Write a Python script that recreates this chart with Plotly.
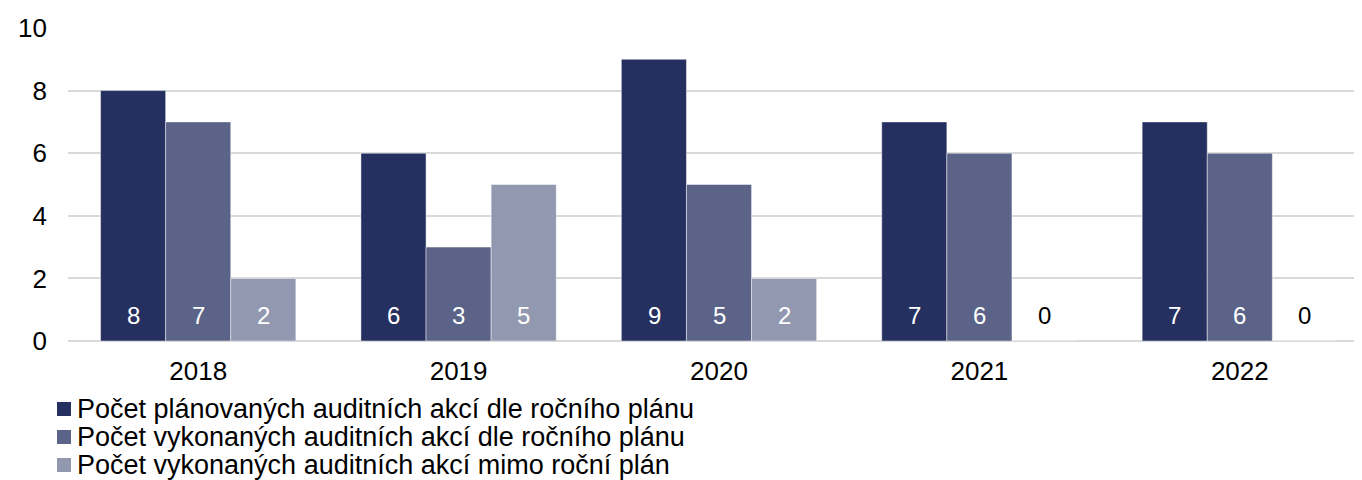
import plotly.graph_objects as go

years = ['2018', '2019', '2020', '2021', '2022']
planned = [8, 6, 9, 7, 7]
done_in_plan = [7, 3, 5, 6, 6]
done_out_plan = [2, 5, 2, 0, 0]

series = [
    ('Počet plánovaných auditních akcí dle ročního plánu', planned, '#253060'),
    ('Počet vykonaných auditních akcí dle ročního plánu', done_in_plan, '#5b6488'),
    ('Počet vykonaných auditních akcí mimo roční plán', done_out_plan, '#9398b1'),
]

# the page body adds an 8px margin, so figure coords = screen coords - 8
OFF = 8
W, H = 1362, 480
ML, MR, MT = 68 - OFF, 0, 28 - OFF
plot_h = 313
MB = H - MT - plot_h
plot_w = W - ML - MR

def px_x(px):
    return (px - OFF - ML) / plot_w

def px_y(py):
    return (MT + plot_h - (py - OFF)) / plot_h

fig = go.Figure()
annotations = []
shapes = []
bar_px = 65  # width of one bar in pixels, used to shift labels onto bars
for i, (name, vals, color) in enumerate(series):
    fig.add_trace(go.Bar(
        x=years, y=vals, name=name, showlegend=False,
        marker=dict(color=color, line=dict(color='rgba(255,255,255,0.45)', width=1)),
        hoverinfo='skip',
    ))
    # value labels near the bar base (category index as x)
    for j, v in enumerate(vals):
        annotations.append(dict(
            x=j, y=0, xref='x', yref='y', text=str(v), showarrow=False,
            xshift=(i - 1) * bar_px, yshift=26, yanchor='middle',
            font=dict(size=24, color='white' if v > 0 else 'black'),
        ))
    # hand-drawn legend: tight row spacing like the original
    row_y = 409 + i * 28
    shapes.append(dict(type='rect', xref='paper', yref='paper',
                       x0=px_x(57), x1=px_x(71), y0=px_y(row_y + 7), y1=px_y(row_y - 7),
                       fillcolor=color, line=dict(width=0)))
    annotations.append(dict(
        x=px_x(75), y=px_y(row_y), xref='paper', yref='paper', text=name,
        showarrow=False, xanchor='left', yanchor='middle',
        font=dict(size=27, color='black'),
    ))

fig.update_layout(
    width=W, height=H,
    barmode='group', bargap=0.25, bargroupgap=0,
    paper_bgcolor='white', plot_bgcolor='white',
    font=dict(family='Liberation Sans, Arial, sans-serif', size=26, color='black'),
    margin=dict(l=ML, r=MR, t=MT, b=MB, autoexpand=False),
    showlegend=False,
    xaxis=dict(type='category', range=[-0.5, 4.5], showgrid=False, showline=False, ticks='',
               ticklabelstandoff=12, tickfont=dict(size=26)),
    yaxis=dict(range=[0, 10], dtick=2, showgrid=True, gridcolor='#d9d9d9', gridwidth=2,
               zeroline=True, zerolinecolor='#d9d9d9', zerolinewidth=2,
               ticks='', ticklabelstandoff=20, tickfont=dict(size=26)),
    annotations=annotations,
    shapes=shapes,
)

fig.write_html('out.html')
